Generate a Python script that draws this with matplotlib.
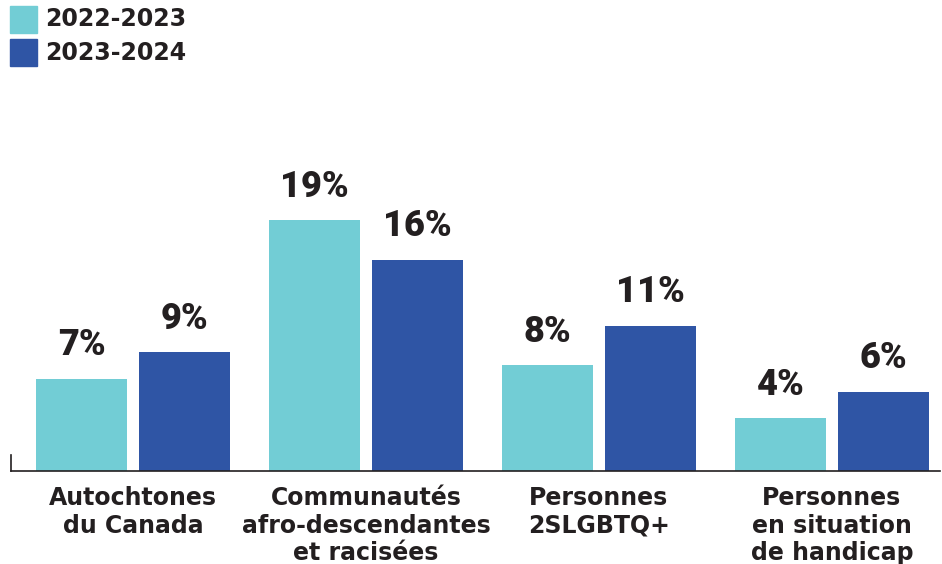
import matplotlib.pyplot as plt
from matplotlib.patches import Rectangle
import numpy as np

categories = ['Autochtones\ndu Canada',
              'Communautés\nafro-descendantes\net racisées',
              'Personnes\n2SLGBTQ+',
              'Personnes\nen situation\nde handicap']
series_names = ['2022-2023', '2023-2024']
vals_2022 = [7, 19, 8, 4]
vals_2023 = [9, 16, 11, 6]

colors = ['#72CDD5', '#2F55A5']
txt = '#231F20'

W, H = 942, 564
fig = plt.figure(figsize=(W / 100, H / 100), dpi=100)
ax = fig.add_axes([11 / W, 93 / H, 929 / W, 321 / H])

x = np.arange(len(categories))
bw = 0.39
off = 0.221
b1 = ax.bar(x - off, vals_2022, bw, color=colors[0])
b2 = ax.bar(x + off, vals_2023, bw, color=colors[1])

for bars in (b1, b2):
    for rect in bars:
        h = rect.get_height()
        ax.annotate(f'{h:g}%', (rect.get_x() + rect.get_width() / 2, h),
                    xytext=(0, 11), textcoords='offset points',
                    ha='center', va='bottom', fontsize=26,
                    fontweight='heavy', family='Roboto', color=txt)

ax.set_xlim(-0.524, 3.464)
ax.set_ylim(0, 24.3)
ax.set_xticks(x)
ax.set_xticklabels(categories, fontsize=17, fontweight='bold', color=txt,
                   linespacing=1.17, family='DejaVu Sans')
ax.tick_params(axis='x', length=0, pad=11)
ax.set_yticks([])
for s in ['top', 'right']:
    ax.spines[s].set_visible(False)
ax.spines['left'].set_bounds(0, 1.2)
for s in ['left', 'bottom']:
    ax.spines[s].set_color(txt)
    ax.spines[s].set_linewidth(1.2)

# legend
for i, (name, c) in enumerate(zip(series_names, colors)):
    y0 = 6 + i * 33
    fig.patches.append(Rectangle((10 / W, 1 - (y0 + 27) / H), 27 / W, 27 / H,
                                 transform=fig.transFigure, color=c))
    fig.text(45 / W, 1 - (y0 + 13.5) / H, name, fontsize=17, fontweight='bold',
             family='DejaVu Sans', color=txt, va='center', ha='left')

fig.savefig('out.png', dpi=100)
